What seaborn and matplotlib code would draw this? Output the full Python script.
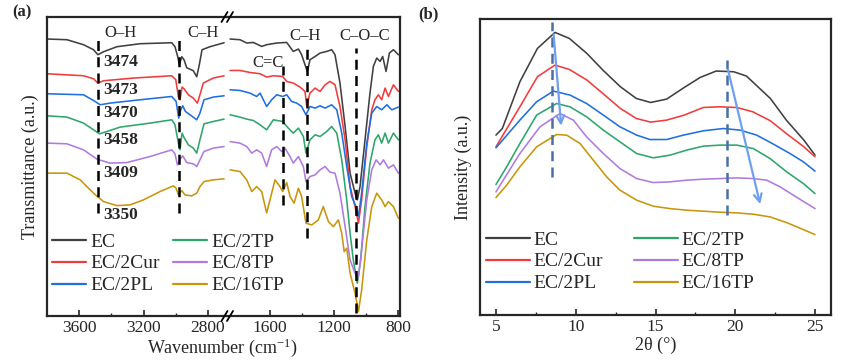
import numpy as np
import pandas as pd
import matplotlib
matplotlib.use('Agg')
import matplotlib.pyplot as plt
import seaborn as sns
from matplotlib.lines import Line2D

# --- DATOS ---
samples = ['EC', 'EC/2Cur', 'EC/2PL', 'EC/2TP', 'EC/8TP', 'EC/16TP']
colors = ['#404040', '#f03c3c', '#1f6fe0', '#2ea56a', '#b07ae0', '#c8960a']

# FTIR, tramo alto (3800-2700 cm-1)
ec_hi_wn = [3800, 3676, 3573, 3511, 3484, 3449, 3366, 3222, 3025, 3005, 2988, 2978, 2963, 2949, 2932, 2891, 2870, 2854, 2837, 2788, 2700]
ec_hi_t = [276.7, 276, 271, 266, 261, 264, 269, 272, 273, 269, 259, 251, 259, 256, 248, 245, 239, 251, 266, 269, 273]
cur_hi_wn = [3800, 3573, 3511, 3484, 3449, 3263, 3025, 3000, 2984, 2974, 2961, 2947, 2922, 2891, 2866, 2850, 2829, 2767, 2700]
cur_hi_t = [242, 240, 237, 232.7, 235, 237.7, 240, 236, 219, 216, 228.7, 226.7, 221, 217.7, 212.7, 221, 232.7, 237.7, 240]
pl_hi_wn = [3800, 3573, 3501, 3470, 3408, 3222, 3025, 2998, 2982, 2969, 2957, 2940, 2911, 2870, 2850, 2825, 2767, 2700]
pl_hi_t = [222, 221, 214.3, 211, 212.7, 216, 219.3, 214.3, 197.7, 206, 210, 204.3, 201, 196, 202.7, 216, 218.7, 220]
tp2_hi_wn = [3800, 3676, 3573, 3511, 3474, 3428, 3346, 3160, 3025, 3005, 2984, 2974, 2961, 2947, 2922, 2891, 2870, 2850, 2825, 2767, 2700]
tp2_hi_t = [200, 198.7, 192.7, 186, 182, 184.3, 188.7, 192.7, 196, 191, 172.7, 166, 182.7, 177.7, 171, 167.7, 162.7, 176, 192, 194.3, 196.7]
tp8_hi_wn = [3800, 3676, 3573, 3490, 3408, 3304, 3160, 3025, 3005, 2990, 2974, 2957, 2932, 2891, 2870, 2850, 2825, 2767, 2700]
tp8_hi_t = [172.7, 172, 166, 156.7, 152.7, 153.3, 159.3, 166, 162, 151, 156.7, 160, 153.3, 152, 149.3, 156, 164.3, 167.7, 169.3]
tp16_hi_wn = [3800, 3676, 3594, 3511, 3449, 3366, 3284, 3201, 3098, 3015, 2998, 2984, 2963, 2943, 2901, 2870, 2850, 2825, 2767, 2700]
tp16_hi_t = [142.7, 142.7, 136, 122.7, 114.3, 110.3, 111, 116, 124.3, 130, 127.7, 121, 125.3, 121, 120, 122.7, 129.3, 134.3, 136, 137]

# FTIR, tramo bajo (1850-800 cm-1)
ec_lo_wn = [1849, 1787, 1745, 1704, 1652, 1621, 1558, 1496, 1455, 1423, 1403, 1382, 1367, 1351, 1319, 1288, 1247, 1216, 1195, 1164, 1132, 1101, 1070, 1056, 1039, 1008, 977, 956, 935, 914, 898, 877, 856, 831, 800]
ec_lo_t = [276.7, 276, 272.7, 273.3, 269.3, 271, 272.7, 273.3, 264.3, 266.7, 261, 251, 244.3, 256, 259.3, 262.7, 264.3, 266, 261, 232.7, 189.3, 142.7, 122.7, 116, 129.3, 176, 222.7, 249.3, 257.7, 254.3, 259.3, 244.3, 262.7, 266, 261]
cur_lo_wn = [1849, 1787, 1725, 1662, 1621, 1579, 1521, 1496, 1455, 1413, 1382, 1371, 1351, 1319, 1288, 1257, 1226, 1195, 1164, 1132, 1101, 1070, 1049, 1029, 997, 966, 946, 925, 904, 883, 862, 831, 800]
cur_lo_t = [245.3, 245.3, 243.3, 242, 238.7, 240, 239.3, 234.3, 232.7, 228.7, 224.3, 209.3, 222.7, 227.7, 224.3, 231, 234.3, 231, 209.3, 176, 129.3, 109.3, 92.7, 116, 169.3, 206, 216, 221, 216, 227.7, 219.3, 231, 224.3]
pl_lo_wn = [1849, 1787, 1725, 1683, 1662, 1621, 1590, 1558, 1521, 1496, 1465, 1434, 1403, 1376, 1351, 1319, 1288, 1257, 1216, 1184, 1153, 1122, 1091, 1064, 1049, 1029, 997, 966, 935, 904, 872, 841, 800]
pl_lo_t = [226, 225.3, 222.7, 219.3, 222.7, 209.3, 216, 221, 219.3, 221, 214.3, 212.7, 209.3, 201, 209.3, 207.7, 210, 207.7, 211, 206, 182.7, 149.3, 119.3, 109.3, 99.3, 122.7, 172.7, 202.7, 209.3, 206, 211, 206, 208.7]
tp2_lo_wn = [1849, 1787, 1745, 1704, 1662, 1621, 1579, 1521, 1486, 1455, 1423, 1392, 1376, 1351, 1319, 1288, 1247, 1216, 1184, 1153, 1122, 1101, 1081, 1056, 1035, 1008, 977, 946, 925, 904, 883, 862, 831, 800]
tp2_lo_t = [201, 198.7, 196.7, 195.3, 191, 186, 196, 194.3, 187.7, 182.7, 187.7, 179.3, 162.7, 176, 181, 179.3, 184.3, 189.3, 182.7, 156, 116, 82.7, 56, 32.7, 56, 109.3, 152.7, 176, 181, 172.7, 182.7, 172.7, 182.7, 176]
tp8_lo_wn = [1849, 1787, 1745, 1714, 1683, 1652, 1621, 1590, 1558, 1527, 1507, 1475, 1455, 1423, 1392, 1376, 1351, 1319, 1288, 1257, 1226, 1195, 1164, 1132, 1101, 1070, 1049, 1029, 997, 966, 939, 914, 893, 862, 831, 800]
tp8_lo_t = [174.3, 172.7, 169.3, 162.7, 166, 162.7, 149.3, 166, 169.3, 164.3, 167.7, 159.3, 152.7, 159.3, 149.3, 134.3, 139.3, 141, 146, 149.3, 143.7, 142.7, 122.7, 89.3, 56, 42.7, 39.3, 66, 116, 146, 156, 151, 156, 147.7, 151, 142.7]
tp16_lo_wn = [1849, 1787, 1745, 1714, 1683, 1652, 1621, 1600, 1569, 1538, 1521, 1496, 1475, 1450, 1423, 1403, 1376, 1340, 1299, 1268, 1236, 1205, 1174, 1153, 1138, 1122, 1101, 1070, 1049, 1029, 997, 966, 935, 904, 883, 862, 831, 800]
tp16_lo_t = [146, 144.3, 136, 124.3, 129.3, 124.3, 103, 116, 136, 129.3, 124.3, 133.3, 119.3, 112.7, 127.7, 119.3, 92.7, 91, 96, 109.3, 94.3, 89.3, 96, 82.7, 64.3, 67.7, 42.7, 22.7, 4.3, 26, 76, 109.3, 122.7, 116, 109.3, 114.3, 109.3, 97.7]

# XRD
ec_2t = [5.0, 5.4, 6.5, 7.6, 8.7, 9.6, 10.7, 11.7, 12.8, 13.8, 14.7, 15.7, 16.8, 17.8, 18.8, 19.9, 20.7, 22.2, 23.2, 24.3, 25.0]
ec_i = [179.7, 186.3, 233, 266.3, 282.3, 276.3, 261.3, 244.7, 228, 216.3, 212.3, 215.7, 227.3, 237.3, 243.7, 243, 238.7, 216.3, 194.7, 174.7, 159.7]
cur_2t = [5.0, 6.5, 7.6, 8.7, 9.6, 10.7, 11.7, 12.8, 13.8, 14.7, 15.7, 16.8, 18.0, 19.0, 20.1, 21.1, 22.2, 23.2, 24.3, 25.0]
cur_i = [168, 208, 238, 249.7, 245.3, 234.7, 221.3, 206.3, 196.3, 192.7, 194.7, 199.7, 207.3, 208, 207.3, 203, 194, 181.3, 168, 158]
pl_2t = [5.0, 6.5, 7.55, 8.6, 9.64, 10.68, 11.73, 12.77, 13.82, 14.65, 15.7, 16.75, 18.0, 19.25, 20.3, 21.34, 22.39, 23.43, 24.27, 25.0]
pl_i = [167, 194.7, 213, 223.7, 219.7, 211.3, 199.7, 188, 179.7, 175.3, 175.3, 179.7, 184, 186.3, 184.7, 179.7, 170.7, 161.3, 153, 143.7]
tp2_2t = [5.0, 5.67, 6.5, 7.55, 8.8, 9.64, 10.68, 11.73, 12.77, 13.82, 14.86, 15.91, 16.95, 18.0, 19.04, 20.09, 21.13, 22.18, 23.22, 24.27, 25.0]
tp2_i = [130.3, 148, 171.3, 199.7, 211.3, 208, 198, 184.7, 173, 161.3, 157, 159.7, 164.7, 168.7, 169.7, 169.7, 166.3, 156.3, 143, 131.3, 121.3]
tp8_2t = [5.0, 6.5, 7.76, 9.01, 9.85, 10.68, 11.73, 12.77, 13.82, 14.86, 15.91, 16.95, 18.0, 19.04, 20.09, 21.13, 21.97, 22.81, 23.64, 25.0]
tp8_i = [123, 161.3, 188, 201.3, 194.7, 178, 161.3, 146.3, 136.3, 132.3, 133, 134.7, 135.7, 136.3, 137, 136.3, 134.7, 128, 119.7, 106.3]
tp16_2t = [5.0, 5.67, 6.5, 7.55, 8.8, 9.43, 10.27, 11.1, 11.94, 12.77, 13.82, 14.86, 15.91, 16.95, 18.0, 19.04, 20.09, 21.13, 22.18, 23.22, 24.27, 25.0]
tp16_i = [117.3, 129.7, 148, 168, 180.3, 179.7, 171.3, 154.7, 138, 124.7, 114.7, 108.7, 106.3, 104.7, 103.7, 102.7, 102, 100.7, 98, 92.3, 85.3, 80.3]

# Anotaciones FTIR
oh_numbers = ['3474', '3473', '3470', '3458', '3409', '3350']
oh_number_y = [253.7, 226, 202.7, 176, 142.7, 101]


def to_long(pairs):
    frames = []
    for name, (x, y) in zip(samples, pairs):
        frames.append(pd.DataFrame({'x': x, 'y': y, 'sample': name}))
    return pd.concat(frames, ignore_index=True)


df_hi = to_long([(ec_hi_wn, ec_hi_t), (cur_hi_wn, cur_hi_t), (pl_hi_wn, pl_hi_t),
                 (tp2_hi_wn, tp2_hi_t), (tp8_hi_wn, tp8_hi_t), (tp16_hi_wn, tp16_hi_t)])
df_lo = to_long([(ec_lo_wn, ec_lo_t), (cur_lo_wn, cur_lo_t), (pl_lo_wn, pl_lo_t),
                 (tp2_lo_wn, tp2_lo_t), (tp8_lo_wn, tp8_lo_t), (tp16_lo_wn, tp16_lo_t)])
df_xrd = to_long([(ec_2t, ec_i), (cur_2t, cur_i), (pl_2t, pl_i),
                  (tp2_2t, tp2_i), (tp8_2t, tp8_i), (tp16_2t, tp16_i)])
palette = dict(zip(samples, colors))

# --- ESTILO ---
sns.set_theme(style="ticks")
plt.rcParams['font.family'] = ['Liberation Serif', 'DejaVu Serif']
plt.rcParams['mathtext.default'] = 'regular'
plt.rcParams['axes.linewidth'] = 1.6
plt.rcParams['xtick.direction'] = 'in'
plt.rcParams['xtick.major.width'] = 1.2
plt.rcParams['xtick.minor.width'] = 1.0
plt.rcParams['xtick.major.size'] = 4
plt.rcParams['xtick.minor.size'] = 2.5

W, H = 848, 361
fig = plt.figure(figsize=(W / 100, H / 100), dpi=100)


def fx(px):
    return px / W


def fy(py):
    return 1 - py / H


axL = fig.add_axes([fx(47), fy(316), fx(227 - 47), (316 - 17) / H])
axR = fig.add_axes([fx(227), fy(316), fx(400 - 227), (316 - 17) / H])
axB = fig.add_axes([fx(480), fy(315), fx(831 - 480), (315 - 19) / H])

lw = 1.15
sns.lineplot(data=df_hi, x='x', y='y', hue='sample', palette=palette, sort=False,
             estimator=None, legend=False, lw=lw, ax=axL)
sns.lineplot(data=df_lo, x='x', y='y', hue='sample', palette=palette, sort=False,
             estimator=None, legend=False, lw=lw, ax=axR)
sns.lineplot(data=df_xrd, x='x', y='y', hue='sample', palette=palette, sort=False,
             estimator=None, legend=False, lw=lw, ax=axB)

# --- Panel (a) ---
axL.set_xlim(3800, 2682)
axR.set_xlim(1868, 790)
for ax in (axL, axR):
    ax.set_ylim(0, 298.7)
    ax.set_yticks([])
    ax.set_xlabel('')
    ax.set_ylabel('')
    ax.tick_params(axis='x', labelsize=12.5, pad=3, top=False)
axL.set_xticks([3600, 3200, 2800])
axL.set_xticks([3400, 3000], minor=True)
axR.set_xticks([1600, 1200, 800])
axR.set_xticks([1400, 1000], minor=True)
axL.spines['right'].set_visible(False)
axR.spines['left'].set_visible(False)
axL.set_ylabel('Transmittance (a.u.)', fontsize=13, labelpad=6)

dash = dict(color='black', lw=1.8, ls=(0, (4, 2.5)))
axL.plot([3484, 3484], [102.7, 277.7], **dash)
axL.plot([2980, 2980], [102.7, 277.7], **dash)
axR.plot([1521, 1521], [111, 249.3], **dash)
axR.plot([1367, 1367], [77.7, 269.3], **dash)
axR.plot([1064, 1064], [2.7, 267.7], **dash)

axL.text(3342, 282.7, 'O–H', fontsize=12, ha='center', va='center')
axL.text(2833, 282.7, 'C–H', fontsize=12, ha='center', va='center')
axR.text(1382, 280, 'C–H', fontsize=12, ha='center', va='center')
axR.text(1008, 280, 'C–O–C', fontsize=12, ha='center', va='center')
axR.text(1610, 252.7, 'C=C', fontsize=12, ha='center', va='center')
for lab, yv in zip(oh_numbers, oh_number_y):
    axL.text(3449, yv, lab, fontsize=12.5, fontweight='bold', ha='left', va='center')

# marcas de corte //
for py in (17, 316):
    for cx in (224.5, 230):
        fig.add_artist(Line2D([fx(cx - 3), fx(cx + 3)], [fy(py + 5), fy(py - 5)],
                              color='black', lw=1.3))

fig.text(fx(222), fy(348), 'Wavenumber (cm$^{-1}$)', fontsize=13, ha='center', va='center')
fig.text(fx(12), fy(12), '(a)', fontsize=12, fontweight='bold', ha='left', va='center')

handles = [Line2D([], [], color=c, lw=1.6) for c in colors]
fig.legend(handles, samples, ncol=2, frameon=False, fontsize=14, loc='upper left',
           bbox_to_anchor=(fx(52), fy(233)), handlelength=1.75, handletextpad=0.2,
           columnspacing=0.7, labelspacing=0.22, borderaxespad=0, borderpad=0)

# --- Panel (b) ---
axB.set_xlim(4, 26)
axB.set_ylim(0, 295.7)
axB.set_yticks([])
axB.set_xticks([5, 10, 15, 20, 25])
axB.set_xticks([7.5, 12.5, 17.5, 22.5], minor=True)
axB.tick_params(axis='x', labelsize=12.5, pad=3)
axB.set_xlabel('2θ (°)', fontsize=13, labelpad=1)
axB.set_ylabel('Intensity (a.u.)', fontsize=13, labelpad=6)

bdash = dict(color='#4a6fa5', lw=1.8, ls=(0, (4, 2.5)))
axB.plot([8.53, 8.53], [138, 293], **bdash)
axB.plot([19.46, 19.46], [99.7, 254.7], **bdash)
arrow = dict(arrowstyle='->', color='#6fa0ef', lw=1.6, mutation_scale=14)
axB.annotate('', xy=(9.1, 186.3), xytext=(8.6, 283), arrowprops=arrow)
axB.annotate('', xy=(21.6, 108), xytext=(19.5, 248), arrowprops=arrow)

fig.text(fx(418), fy(14), '(b)', fontsize=12, fontweight='bold', ha='left', va='center')
axB.legend(handles, samples, ncol=2, frameon=False, fontsize=14, loc='upper left',
           bbox_to_anchor=(fx(486 - 480) / fx(351), (315 - 231) / 296), handlelength=2.25,
           handletextpad=0.2, columnspacing=1.6, labelspacing=0.22, borderaxespad=0, borderpad=0)

fig.savefig('out.png', dpi=100)
